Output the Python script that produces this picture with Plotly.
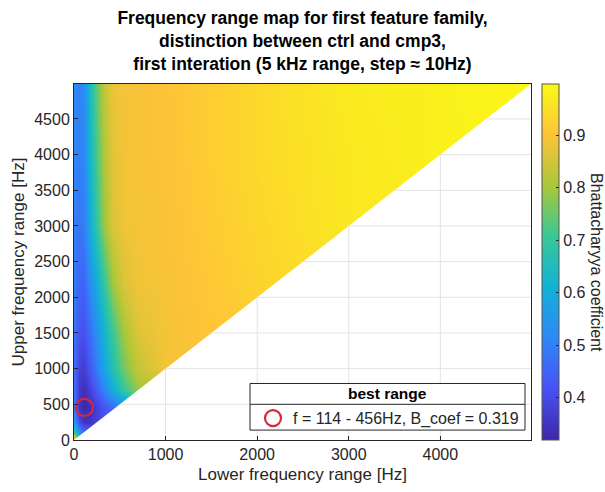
import plotly.graph_objects as go

# ---- data ----
lower_hz = [0, 60, 114, 180, 250, 330, 430, 550, 700, 1000, 1500, 2200, 3000, 4000, 4990]
upper_hz = [0, 100, 250, 456, 700, 1000, 1500, 2200, 3000, 4000, 4990]

# Bhattacharyya coefficient, rows = upper frequency, columns = lower frequency
# (cells with lower > upper lie in the masked (white) half of the map)
b_u0    = [0.98, 0.80, 0.60, 0.55, 0.50, 0.50, 0.50, 0.50, 0.50, 0.50, 0.50, 0.50, 0.50, 0.50, 0.50]
b_u100  = [0.72, 0.55, 0.48, 0.45, 0.45, 0.45, 0.45, 0.45, 0.45, 0.45, 0.45, 0.45, 0.45, 0.45, 0.45]
b_u250  = [0.55, 0.40, 0.35, 0.35, 0.38, 0.40, 0.42, 0.44, 0.46, 0.48, 0.50, 0.50, 0.50, 0.50, 0.50]
b_u456  = [0.48, 0.35, 0.319, 0.34, 0.38, 0.42, 0.47, 0.52, 0.58, 0.64, 0.66, 0.66, 0.66, 0.66, 0.66]
b_u700  = [0.47, 0.36, 0.34, 0.38, 0.44, 0.51, 0.60, 0.70, 0.79, 0.84, 0.85, 0.85, 0.85, 0.85, 0.85]
b_u1000 = [0.47, 0.38, 0.37, 0.43, 0.50, 0.58, 0.67, 0.76, 0.83, 0.89, 0.90, 0.90, 0.90, 0.90, 0.90]
b_u1500 = [0.48, 0.42, 0.41, 0.47, 0.54, 0.62, 0.71, 0.80, 0.865, 0.89, 0.905, 0.92, 0.92, 0.92, 0.92]
b_u2200 = [0.49, 0.45, 0.45, 0.53, 0.61, 0.70, 0.80, 0.86, 0.885, 0.892, 0.91, 0.935, 0.95, 0.95, 0.95]
b_u3000 = [0.50, 0.48, 0.50, 0.60, 0.70, 0.79, 0.86, 0.885, 0.89, 0.895, 0.915, 0.94, 0.965, 0.97, 0.98]
b_u4000 = [0.51, 0.50, 0.52, 0.63, 0.73, 0.81, 0.87, 0.888, 0.892, 0.898, 0.92, 0.945, 0.965, 0.98, 0.985]
b_u4990 = [0.52, 0.50, 0.53, 0.65, 0.75, 0.83, 0.88, 0.89, 0.893, 0.90, 0.92, 0.945, 0.97, 0.98, 0.99]

best_lower = [114]
best_upper = [456]
best_coef = 0.319

x_ticks = [0, 1000, 2000, 3000, 4000]
y_ticks = [0, 500, 1000, 1500, 2000, 2500, 3000, 3500, 4000, 4500]
cbar_ticks = [0.4, 0.5, 0.6, 0.7, 0.8, 0.9]

z = [b_u0, b_u100, b_u250, b_u456, b_u700, b_u1000, b_u1500, b_u2200, b_u3000, b_u4000, b_u4990]

parula = [
    [0 / 7, "rgb(62,38,168)"],
    [1 / 7, "rgb(72,82,244)"],
    [2 / 7, "rgb(46,135,247)"],
    [3 / 7, "rgb(18,177,214)"],
    [4 / 7, "rgb(55,200,151)"],
    [5 / 7, "rgb(171,199,57)"],
    [6 / 7, "rgb(254,195,56)"],
    [7 / 7, "rgb(249,251,21)"],
]

FONT = "Liberation Sans, Arial, sans-serif"
TXT = "#262626"
fmax = max(lower_hz)

fig = go.Figure()

fig.add_trace(go.Heatmap(
    x=lower_hz, y=upper_hz, z=z,
    zsmooth="best", colorscale=parula, zmin=0.319, zmax=0.998,
    showscale=True, hoverinfo="skip",
    colorbar=dict(
        thickness=17, len=1, lenmode="fraction", y=0.5, yanchor="middle",
        x=1.024, xanchor="left", xpad=0, ypad=0,
        tickvals=cbar_ticks, ticktext=[f"{v:.1f}" for v in cbar_ticks],
        ticks="inside", ticklen=3, tickcolor=TXT,
        outlinewidth=1, outlinecolor="#555555",
        tickfont=dict(family=FONT, size=16, color=TXT),
    ),
))

# mask of the invalid half (lower > upper)
fig.add_trace(go.Scatter(
    x=[0, fmax, fmax, 0], y=[0, 0, fmax, 0], mode="lines",
    fill="toself", fillcolor="white", line=dict(width=0, color="white"),
    hoverinfo="skip", showlegend=False,
))

# grid lines visible in the white half
gx, gy = [], []
for t in x_ticks[1:]:
    gx += [t, t, None]
    gy += [0, t, None]
for t in y_ticks[1:]:
    gx += [t, fmax, None]
    gy += [t, t, None]
fig.add_trace(go.Scatter(
    x=gx, y=gy, mode="lines", line=dict(color="#e3e3e3", width=1),
    hoverinfo="skip", showlegend=False,
))

fig.add_trace(go.Scatter(
    x=best_lower, y=best_upper, mode="markers",
    marker=dict(symbol="circle-open", size=17, color="#d7263d", line=dict(width=2.2, color="#d7263d")),
    name=f"f = {best_lower[0]} - {best_upper[0]}Hz, B_coef = {best_coef}",
    showlegend=True,
))

axis_common = dict(
    showline=True, linecolor=TXT, linewidth=1, mirror=True,
    ticks="inside", ticklen=4, tickcolor=TXT,
    showgrid=False, zeroline=False,
    tickfont=dict(family=FONT, size=16, color=TXT),
)

# pixel geometry of the plot area (used for the legend frame)
PL, PR, PT, PB = 74, 531, 84, 443

def py(px):
    return (PB - px) / (PB - PT)

def pxx(px):
    return (px - PL) / (PR - PL)

fig.update_layout(
    width=605, height=492,
    margin=dict(l=PL, r=605 - PR, t=PT, b=492 - PB),
    paper_bgcolor="white", plot_bgcolor="white",
    title=dict(
        text="<b>Frequency range map for first feature family,<br>distinction between ctrl and cmp3,<br>first interation (5 kHz range, step \u2248 10Hz)</b>",
        x=(PL + PR) / 2 / 605, xanchor="center", xref="container",
        y=1 - 24 / 492, yanchor="middle", yref="container",
        font=dict(family=FONT, size=17.5, color="black"),
    ),
    xaxis=dict(range=[0, fmax], tickvals=x_ticks,
               title=dict(text="Lower frequency range [Hz]", standoff=5,
                          font=dict(family=FONT, size=17, color=TXT)),
               **axis_common),
    yaxis=dict(range=[0, fmax], tickvals=y_ticks,
               title=dict(text="Upper frequency range [Hz]", standoff=5,
                          font=dict(family=FONT, size=17, color=TXT)),
               **axis_common),
    legend=dict(
        x=pxx(524), xanchor="right", y=py(421), yanchor="middle",
        bgcolor="rgba(0,0,0,0)", borderwidth=0,
        font=dict(family=FONT, size=16, color=TXT),
        itemsizing="trace",
    ),
    shapes=[
        dict(type="rect", xref="paper", yref="paper",
             x0=pxx(250), x1=pxx(525), y0=py(433), y1=py(386),
             fillcolor="white", line=dict(color=TXT, width=1), layer="above"),
        dict(type="line", xref="paper", yref="paper",
             x0=pxx(250), x1=pxx(525), y0=py(407), y1=py(407),
             line=dict(color=TXT, width=1), layer="above"),
    ],
    annotations=[
        dict(text="<b>best range</b>", x=pxx(387.5), xref="paper", xanchor="center",
             y=py(396.5), yref="paper", yanchor="middle", showarrow=False,
             font=dict(family=FONT, size=15.5, color="black")),
        dict(text="Bhattacharyya coefficient", textangle=90,
             x=pxx(597), xref="paper", xanchor="center",
             y=0.5, yref="paper",
             showarrow=False, font=dict(family=FONT, size=16, color=TXT)),
    ],
)

fig.write_html("out.html")
